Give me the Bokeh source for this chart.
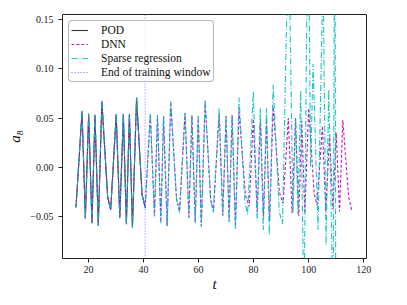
from bokeh.plotting import figure
from bokeh.models import Range1d, FixedTicker, Legend, LegendItem
from bokeh.embed import file_html
from bokeh.resources import INLINE

# ---- data ----
t_pod = [15.5, 17.7, 18.9, 20.1, 21.3, 22.4, 23.6, 24.9, 27.0, 28.1, 30.1, 31.4, 32.7,
         33.8, 34.9, 36.0, 37.5, 39.5, 40.6]
a_pod = [-0.041, 0.057, -0.052, 0.054, -0.057, 0.053, -0.059, 0.067, -0.030, -0.043, 0.054,
         -0.051, 0.054, -0.058, 0.054, -0.062, 0.071, -0.028, -0.040]

t_dnn = [15.5, 17.7, 18.9, 20.1, 21.3, 22.4, 23.6, 24.9, 27.0, 28.1, 30.1, 31.4, 32.7,
         33.8, 34.9, 36.0, 37.5, 39.5, 40.6,
         42.5, 44.0, 45.1, 46.3, 47.3, 48.6, 49.9, 52.0, 53.1, 55.1, 56.5, 57.6, 58.8,
         59.9, 61.0, 62.4, 64.4, 65.4, 67.5, 68.8, 70.0, 71.1, 72.2, 73.4, 74.7, 77.0,
         78.4, 79.9, 81.3, 82.5, 83.6, 84.7, 85.8, 87.1, 89.4, 90.7, 92.6, 94.0, 95.2,
         96.4, 97.5, 98.6, 100.0, 102.0, 103.0, 105.0, 106.2, 107.6, 108.8, 110.0, 111.2,
         112.4, 114.5, 115.7]
a_dnn = [-0.040, 0.055, -0.053, 0.053, -0.056, 0.052, -0.060, 0.066, -0.031, -0.044, 0.053,
         -0.052, 0.053, -0.057, 0.053, -0.061, 0.069, -0.029, -0.041,
         0.054, -0.050, 0.053, -0.056, 0.052, -0.060, 0.066, -0.032, -0.045, 0.055, -0.051,
         0.053, -0.056, 0.052, -0.060, 0.067, -0.033, -0.045, 0.055, -0.049, 0.052, -0.055,
         0.053, -0.060, 0.058, -0.028, -0.040, 0.049, -0.046, 0.049, -0.050, 0.048, -0.055,
         0.061, -0.026, -0.037, 0.050, -0.047, 0.050, -0.050, 0.047, -0.047, 0.060, -0.027,
         -0.038, 0.042, -0.045, 0.033, -0.043, 0.035, -0.045, 0.048, -0.030, -0.045]

t_sr = [15.5, 17.7, 18.9, 20.1, 21.3, 22.4, 23.6, 24.9, 27.0, 28.1, 30.1, 31.4, 32.7,
        33.8, 34.9, 36.0, 37.5, 39.5, 40.6,
        42.5, 44.0, 45.1, 46.3, 47.3, 48.6, 49.9, 52.0, 53.1, 55.1, 56.5, 57.6, 58.8,
        59.9, 61.0, 62.4, 64.4, 65.4, 67.5, 68.8, 70.0, 71.1, 72.2, 73.4, 74.7, 76.8,
        77.8, 79.9, 81.3, 82.4, 83.5, 84.7, 85.7, 87.1, 89.3, 90.5, 92.7, 94.3, 95.3,
        96.1, 97.1, 98.3, 99.8, 100.7, 101.6, 103.4, 105.2, 106.3, 107.3, 108.9, 109.5,
        110.0]
a_sr = [-0.041, 0.058, -0.052, 0.055, -0.057, 0.054, -0.060, 0.068, -0.030, -0.044, 0.055,
        -0.051, 0.055, -0.058, 0.055, -0.062, 0.071, -0.028, -0.042,
        0.055, -0.050, 0.053, -0.057, 0.052, -0.060, 0.067, -0.032, -0.046, 0.056, -0.052,
        0.053, -0.057, 0.052, -0.061, 0.068, -0.033, -0.046, 0.060, -0.050, 0.052, -0.056,
        0.053, -0.063, 0.071, -0.034, -0.048, 0.077, -0.055, 0.060, -0.064, 0.060, -0.069,
        0.084, -0.045, -0.058, 0.250, -0.046, 0.050, -0.048, 0.078, -0.150, 0.300, 0.000,
        0.105, -0.064, 0.200, -0.079, 0.079, -0.150, 0.350, -0.400]

t_end = [40.6, 40.6]
a_end = [-0.2, 0.3]

x_ticks = [20, 40, 60, 80, 100, 120]
y_ticks = [-0.05, 0.0, 0.05, 0.1, 0.15]
y_tick_labels = ["\u22120.05", "0.00", "0.05", "0.10", "0.15"]

labels = ["POD", "DNN", "Sparse regression", "End of training window"]

FONT = "Liberation Serif"

p = figure(width=401, height=298,
           min_border_left=62, min_border_right=35, min_border_top=14, min_border_bottom=40,
           x_range=Range1d(10.6, 121.0), y_range=Range1d(-0.093, 0.1555),
           output_backend="svg", toolbar_location=None)

r_pod = p.line(t_pod, a_pod, line_color="#000000", line_width=1.1, line_alpha=0.8)
r_dnn = p.line(t_dnn, a_dnn, line_color="#BF00BF", line_width=1.1, line_dash="3 2", line_alpha=0.9)
r_sr = p.line(t_sr, a_sr, line_color="#00BFBF", line_width=1.1, line_dash="6 2 1 2", line_alpha=0.9)
r_end = p.line(t_end, a_end, line_color="#3030FF", line_width=1.0, line_dash="1 2", line_alpha=0.7)

p.xgrid.visible = False
p.ygrid.visible = False
p.outline_line_color = "#222222"
p.outline_line_width = 1
p.background_fill_color = "white"
p.border_fill_color = "white"

for ax in (p.xaxis[0], p.yaxis[0]):
    ax.axis_line_color = None
    ax.major_tick_line_color = "#222222"
    ax.major_tick_in = 0
    ax.major_tick_out = 4
    ax.minor_tick_line_color = None
    ax.major_label_text_font = FONT
    ax.major_label_text_font_size = "10px"
    ax.major_label_text_color = "#222222"
    ax.axis_label_text_font = FONT
    ax.axis_label_text_font_style = "italic"
    ax.axis_label_text_font_size = "15px"
    ax.axis_label_text_color = "#111111"

p.xaxis[0].ticker = FixedTicker(ticks=x_ticks)
p.yaxis[0].ticker = FixedTicker(ticks=y_ticks)
p.yaxis[0].major_label_overrides = {v: s for v, s in zip(y_ticks, y_tick_labels)}
p.xaxis[0].major_label_standoff = 3
p.yaxis[0].major_label_standoff = 5
p.xaxis[0].axis_label = "t"
p.yaxis[0].axis_label = "a\u2088"
p.xaxis[0].axis_label_standoff = 0
p.yaxis[0].axis_label_standoff = 4

legend = Legend(items=[LegendItem(label=lab, renderers=[r])
                       for lab, r in zip(labels, [r_pod, r_dnn, r_sr, r_end])],
                location="top_left")
legend.margin = 6
legend.padding = 2
legend.spacing = 0
legend.label_height = 14
legend.glyph_height = 14
legend.glyph_width = 17
legend.label_standoff = 13
legend.label_text_font = FONT
legend.label_text_font_size = "11.5px"
legend.label_text_color = "#111111"
legend.border_line_color = "#707070"
legend.border_line_width = 1
legend.background_fill_alpha = 0.8
try:
    legend.border_radius = 4
except Exception:
    pass
p.add_layout(legend)

open("out.html", "w").write(file_html(p, INLINE))
